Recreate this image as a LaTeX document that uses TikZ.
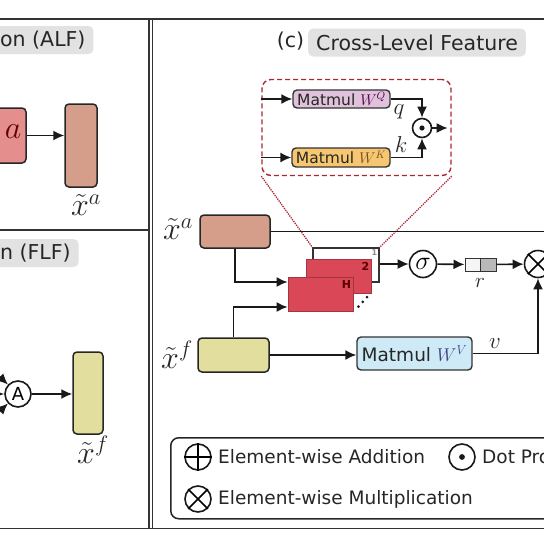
\RequirePackage{fix-cm}
\documentclass[tikz,border=0pt]{standalone}
\usepackage{amsmath}
\usepackage{fontspec}
\setmainfont{DejaVu Sans}
\usetikzlibrary{arrows.meta,calc}
\definecolor{alfcol}{RGB}{212,158,138}
\definecolor{flfcol}{RGB}{225,222,158}
\definecolor{pinkbox}{RGB}{228,142,142}
\definecolor{headred}{RGB}{218,72,88}
\definecolor{wqcol}{RGB}{224,194,218}
\definecolor{wkcol}{RGB}{246,198,112}
\definecolor{wvcol}{RGB}{206,234,247}
\definecolor{titlebg}{RGB}{226,226,226}
\definecolor{dashred}{RGB}{170,40,50}
\begin{document}
\begin{tikzpicture}[x=1pt,y=-1pt,
  feat/.style={draw=black!85, line width=1.5pt, rounded corners=4pt, inner sep=0pt},
  arr/.style={-{Latex[length=11pt,width=10pt]}, line width=1.6pt, draw=black!90},
  ln/.style={line width=1.6pt, draw=black!90},
  op/.style={circle, draw=black!90, line width=1.6pt, inner sep=0pt, minimum size=26pt},
  frame/.style={line width=1.8pt, draw=black!80},
  ttl/.style={fill=titlebg, rounded corners=5pt, inner xsep=8pt, minimum height=28pt, text=black!85, font=\fontsize{20.5}{24}\selectfont},
  mlbl/.style={font=\fontsize{32}{32}\selectfont, text=black!85, inner sep=0pt},
  slbl/.style={font=\fontsize{23}{23}\selectfont, text=black!85, inner sep=0pt},
  legtxt/.style={font=\fontsize{18.5}{22}\selectfont, text=black!85, anchor=west, inner sep=0pt},
  matbox/.style={draw=black!80, line width=1.4pt, rounded corners=4pt, inner sep=0pt, text=black!85},
  head/.style={fill=headred, draw=headred!75!black, line width=0.8pt, minimum width=65pt, minimum height=34pt, inner sep=0pt},
]
\useasboundingbox (0,0) rectangle (544,544);

% ---------- frames ----------
\draw[frame] (-5,19) -- (549,19);
\draw[frame] (-5,230) -- (149,230);
\draw[frame] (-5,528.5) -- (549,528.5);
\draw[frame] (149,19) -- (149,528.5);
\draw[frame] (152.5,19) -- (152.5,528.5);

% ---------- (a) ALF ----------
\node[ttl, anchor=west] (t1) at (-8,40) {on (ALF)};
\node[feat, fill=pinkbox, minimum width=70pt, minimum height=55pt] (pa) at (-9,135.5) {};
\node[mlbl, text=red!40!black] (pat) at (13,132) {$a$};
\node[feat, fill=alfcol, minimum width=32pt, minimum height=83pt] (ca) at (81,145.5) {};
\draw[arr] (pa.east) -- (pa.east -| ca.west);
\node[mlbl] (la) at (86,205) {$\tilde{x}^{a}$};

% ---------- (b) FLF ----------
\node[ttl, anchor=west] (t2) at (-8,253) {n (FLF)};
\node[op, font=\fontsize{18}{18}\selectfont] (A) at (18,394) {A};
\coordinate (i1) at (-16,362);
\coordinate (i2) at (-16,394);
\coordinate (i3) at (-16,426);
\draw[arr] (i1) -- (A);
\draw[arr] (i2) -- (A);
\draw[arr] (i3) -- (A);
\node[feat, fill=flfcol, minimum width=30pt, minimum height=82pt] (cf) at (88,393) {};
\draw[arr] (A) -- (A -| cf.west);
\node[mlbl] (lf) at (93,450) {$\tilde{x}^{f}$};

% ---------- (c) CLF ----------
\node[font=\fontsize{20.5}{24}\selectfont, text=black!85] (tc) at (290.5,41) {(c)};
\node[ttl, anchor=west] (t3) at (308,42.5) {Cross-Level Feature};

% zoom box
\node[draw=dashred, dashed, dash pattern=on 5pt off 3pt, rounded corners=9pt, line width=1.4pt,
      minimum width=189pt, minimum height=96pt] (zb) at (356.5,127.5) {};
\node[matbox, fill=wqcol, minimum width=97pt, minimum height=18pt, font=\fontsize{15.5}{17}\selectfont] (wq) at (341.5,99)
  {Matmul \textcolor{violet!60!black}{$W^{Q}$}};
\node[matbox, fill=wkcol, minimum width=98pt, minimum height=19pt, font=\fontsize{15.5}{17}\selectfont] (wk) at (341,157.5)
  {Matmul \textcolor{brown!60!black}{$W^{K}$}};
\draw[arr] (zb.west |- wq) -- (wq);
\draw[arr] (zb.west |- wk) -- (wk);
\node[op, minimum size=19pt] (dot) at (422,128) {};
\fill[black!90] (dot) circle (2.6pt);
\draw[arr] (wq.east) -| (dot.north);
\draw[arr] (wk.east) -| (dot.south);
\node[slbl] (ql) at (399,112) {$q$};
\node[slbl] (kl) at (401,145) {$k$};
\draw[arr] (dot.east) -- ([xshift=-4pt]zb.east |- dot);

% heads
\node[draw=black!80, line width=1.2pt, fill=white, minimum width=66pt, minimum height=34pt, inner sep=0pt] (h1) at (346,265) {};
\draw[dashred, densely dotted, line width=1.3pt] (zb.south west) -- (h1.north west);
\draw[dashred, densely dotted, line width=1.3pt] (zb.south east) -- (h1.north east);
\node[head] (h2) at (339,276) {};
\node[head] (h3) at (320.5,294) {};
\node[font=\fontsize{8}{8}\selectfont\bfseries, text=black!45, inner sep=0pt] (n1) at (374.5,253) {1};
\node[font=\fontsize{11}{11}\selectfont\bfseries, text=red!35!black, inner sep=0pt] (n2) at (365.5,266.5) {2};
\node[font=\fontsize{11}{11}\selectfont\bfseries, text=red!35!black, inner sep=0pt] (n3) at (346.5,284.5) {H};
\fill[black!90] (358.5,306.5) circle (1.5pt) (362.8,301.8) circle (1.5pt) (367.1,297.1) circle (1.5pt);

% features
\node[feat, fill=alfcol, minimum width=70pt, minimum height=33pt] (fa) at (235,231.5) {};
\node[feat, fill=flfcol, minimum width=71pt, minimum height=34pt] (ff) at (233.5,355) {};
\node[mlbl] (la2) at (178,229) {$\tilde{x}^{a}$};
\node[mlbl] (lf2) at (177,355) {$\tilde{x}^{f}$};
\draw[arr] (fa.south) |- ([yshift=12pt]h3.west);
\draw[arr] (ff.north) |- ([yshift=-13pt]h3.west);
\coordinate (faend) at (560,231.5);
\draw[ln] (fa.east) -- (faend);

% sigma, r, multiply
\node[op, minimum size=27pt, font=\fontsize{26}{26}\selectfont] (sig) at (423,264) {$\sigma$};
\draw[arr] (h1.east |- sig) -- (sig);
\node[draw=black!80, line width=1pt, fill=gray!8, minimum width=15pt, minimum height=13pt, inner sep=0pt] (rl) at (472.5,264.5) {};
\node[draw=black!80, line width=1pt, fill=gray!55, minimum width=16pt, minimum height=13pt, inner sep=0pt] (rr) at (488,264.5) {};
\node[slbl, font=\fontsize{21}{21}\selectfont] (rlab) at (480,283) {$r$};
\draw[arr] (sig) -- (rl);
\node[op, minimum size=27pt] (mul) at (538,264) {};
\draw[line width=1.6pt] (mul.north west) -- (mul.south east) (mul.north east) -- (mul.south west);
\draw[arr] (rr) -- (mul);
\node[matbox, fill=wvcol, minimum width=115pt, minimum height=33pt, font=\fontsize{18.5}{20}\selectfont] (wv) at (414.5,353.5)
  {Matmul \textcolor{blue!35!black!75}{$W^{V}$}};
\draw[arr] (ff.east) -- (ff.east -| wv.west);
\draw[arr] (wv.east) -| (mul.south);
\node[slbl] (vl) at (495,344) {$v$};

% legend
\node[draw=black!85, rounded corners=8pt, line width=1.5pt, minimum width=420pt, minimum height=81pt, anchor=north west] (leg) at (170,437) {};
\node[op] (lplus) at (198,457) {};
\draw[line width=1.6pt] (lplus.north) -- (lplus.south) (lplus.west) -- (lplus.east);
\node[legtxt] (tplus) at (218,457) {Element-wise Addition};
\node[op] (ldot) at (462,457) {};
\fill[black!90] (ldot) circle (2.9pt);
\node[legtxt] (tdot) at (482,457) {Dot Product};
\node[op] (lmul) at (198,499) {};
\draw[line width=1.6pt] (lmul.north west) -- (lmul.south east) (lmul.north east) -- (lmul.south west);
\node[legtxt] (tmul) at (218,499) {Element-wise Multiplication};
\end{tikzpicture}
\end{document}
